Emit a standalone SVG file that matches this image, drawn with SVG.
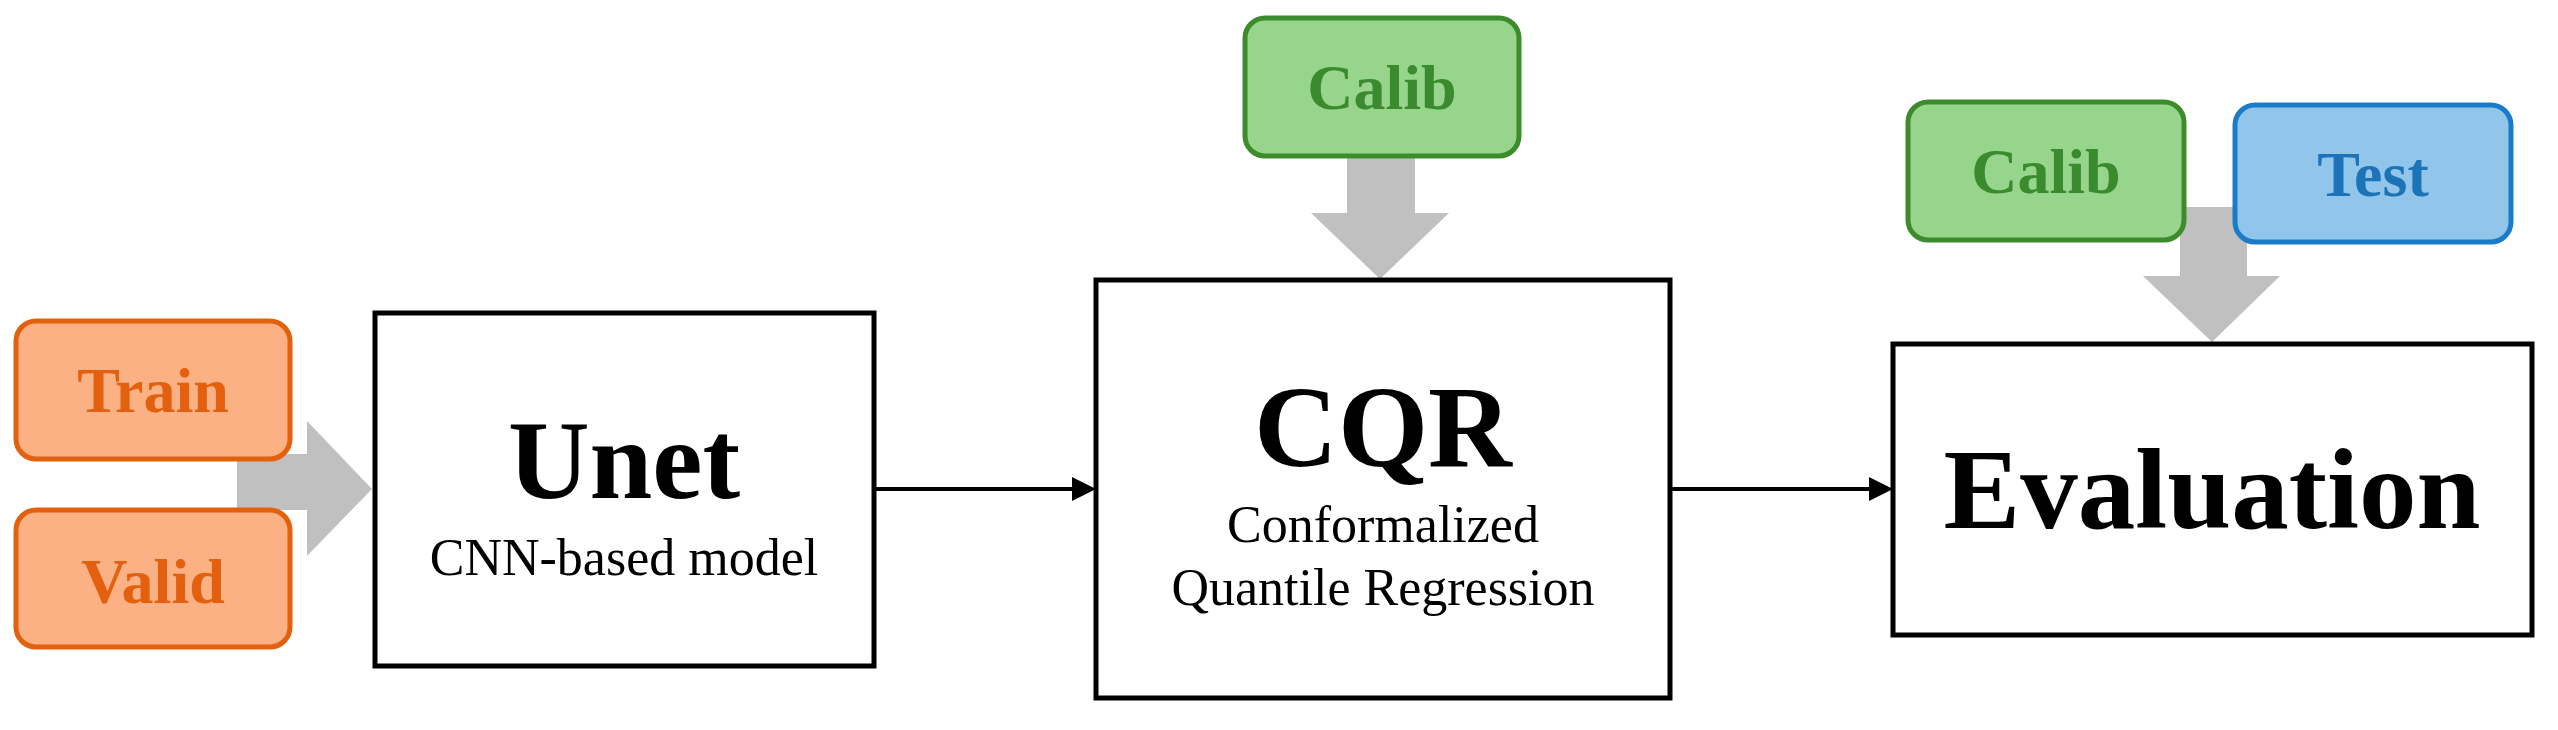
<svg xmlns="http://www.w3.org/2000/svg" width="2558" height="730" viewBox="0 0 2558 730">
<style>
.box{fill:#fff;stroke:#000;stroke-width:5}
.or{fill:#FBB184;stroke:#E2600E;stroke-width:5}
.gr{fill:#97D58C;stroke:#3C8C2C;stroke-width:5}
.bl{fill:#92C5EA;stroke:#1A7CC8;stroke-width:5}
.big{font-family:"Liberation Serif",serif;font-weight:bold;text-anchor:middle;fill:#000}
.sm{font-family:"Liberation Serif",serif;font-size:52px;text-anchor:middle;fill:#000}
.lb{font-family:"Liberation Serif",serif;font-weight:bold;font-size:64px;text-anchor:middle}
.arr{fill:#C0C0C0}
.con{stroke:#000;stroke-width:4;fill:none}
</style>
<defs><marker id="ah" markerWidth="6" markerHeight="6" refX="5" refY="3" orient="auto" markerUnits="strokeWidth"><path d="M0,0 L6,3 L0,6 z" fill="#000"/></marker></defs>
<g id="connectors">
<polygon class="arr" points="237,454 307,454 307,421 372,489 307,556 307,510 237,510"/>
<polygon class="arr" points="1347,156 1415,156 1415,213 1449,213 1380,279 1311,213 1347,213"/>
<polygon class="arr" points="2180,207 2247,207 2247,276 2280,276 2212,342 2143,276 2180,276"/>
<line class="con" x1="874" y1="489" x2="1092" y2="489" marker-end="url(#ah)"/>
<line class="con" x1="1670" y1="489" x2="1889" y2="489" marker-end="url(#ah)"/>
</g>
<g id="train"><rect class="or" x="16" y="321" width="274" height="138" rx="20"/><text class="lb" fill="#E2600E" x="153" y="412">Train</text></g>
<g id="valid"><rect class="or" x="16" y="510" width="274" height="137" rx="20"/><text class="lb" fill="#E2600E" x="153" y="603">Valid</text></g>
<g id="unet"><rect class="box" x="375" y="313" width="499" height="353"/>
<text class="big" font-size="113" x="624" y="498">Unet</text>
<text class="sm" x="624" y="575">CNN-based model</text></g>
<g id="calib1"><rect class="gr" x="1245" y="18" width="274" height="138" rx="20"/><text class="lb" fill="#3A8A2E" x="1382" y="109">Calib</text></g>
<g id="cqr"><rect class="box" x="1096" y="280" width="574" height="418"/>
<text class="big" font-size="116" x="1383" y="466">CQR</text>
<text class="sm" x="1383" y="542">Conformalized</text>
<text class="sm" x="1383" y="605">Quantile Regression</text></g>
<g id="calib2"><rect class="gr" x="1908" y="102" width="276" height="138" rx="20"/><text class="lb" fill="#3A8A2E" x="2046" y="193">Calib</text></g>
<g id="test"><rect class="bl" x="2235" y="105" width="276" height="137" rx="20"/><text class="lb" fill="#1C73B8" x="2373" y="196">Test</text></g>
<g id="evaluation"><rect class="box" x="1893" y="344" width="639" height="291"/>
<text class="big" font-size="115" x="2212" y="528">Evaluation</text></g>
</svg>
